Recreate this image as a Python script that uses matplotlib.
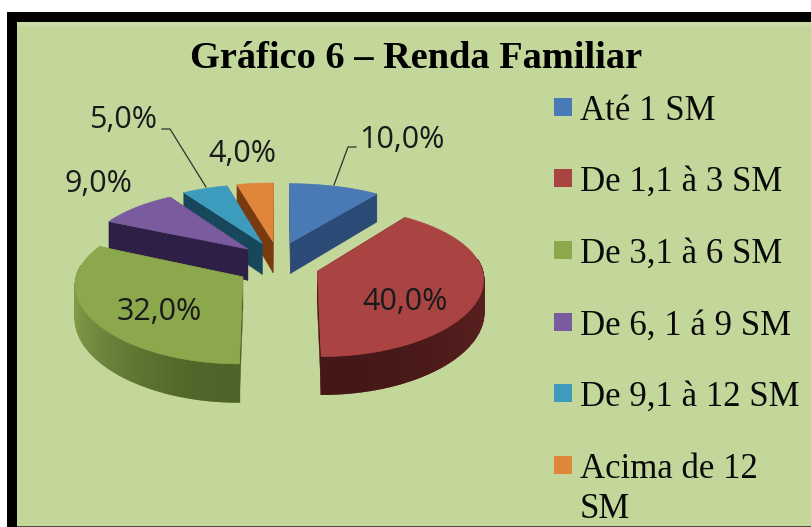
import numpy as np
import matplotlib
matplotlib.use('Agg')
import matplotlib.pyplot as plt
from matplotlib.patches import Polygon, Rectangle
from matplotlib.colors import to_rgb

title = 'Gráfico 6 – Renda Familiar'
categories = ['Até 1 SM', 'De 1,1 à 3 SM', 'De 3,1 à 6 SM', 'De 6, 1 á 9 SM', 'De 9,1 à 12 SM', 'Acima de 12\nSM']
values = [10.0, 40.0, 32.0, 9.0, 5.0, 4.0]
top_colors = ['#4a7ab5', '#a94443', '#8ca84c', '#7a5c9e', '#3d9cbd', '#e0863a']
wall_dark = ['#2b4a75', '#451717', '#4e6328', '#2e1f46', '#17475a', '#7a3a10']
wall_light = ['#2b4a75', '#5a2020', '#7f9a48', '#2e1f46', '#17475a', '#7a3a10']
value_labels = ['10,0%', '40,0%', '32,0%', '9,0%', '5,0%', '4,0%']

# projection of the tilted pie, in pixels
cx, cy = 278, 260.5
rx, ry = 163, 71
persp = 0.13
persp_x = 0.09
explode = 0.25
explode_y = 1.3
explode_drop = 0.05
depth = 32


def project(u, v):
    s = 1 / (1 + persp * v)
    return cx + rx * u / (1 + persp_x * v), cy - ry * v * s, s


def mix(c1, c2, t):
    a, b = np.array(to_rgb(c1)), np.array(to_rgb(c2))
    return tuple(a + (b - a) * t)


fig = plt.figure(figsize=(8.11, 5.27), dpi=100)
ax = fig.add_axes([0, 0, 1, 1])
ax.set_xlim(0, 811)
ax.set_ylim(527, 0)
ax.axis('off')

ax.add_patch(Rectangle((7, 12), 815, 530, fc='#c4d79b', ec='none', zorder=0))
ax.add_patch(Rectangle((7, 12), 10, 530, fc='black', ec='none', zorder=0.5))
ax.add_patch(Rectangle((7, 12), 815, 10, fc='black', ec='none', zorder=0.5))
ax.add_patch(Rectangle((17, 22), 800, 4, fc='#cbdca8', ec='none', zorder=0.4))
ax.add_patch(Rectangle((17, 525.5), 800, 3, fc='#4a5040', ec='none', zorder=0.5))
ax.text(416, 59, title, family='Liberation Serif', weight='bold', fontsize=27.6, ha='center', va='center')

edges = np.cumsum([0] + values) / sum(values) * 2 * np.pi
# far slices first, the big front ones last
order = [0, 5, 4, 3, 2, 1]
z = 2
for i in order:
    a0, a1 = edges[i], edges[i + 1]
    mid = (a0 + a1) / 2
    du = explode * np.sin(mid)
    dv = explode * np.cos(mid) * explode_y - explode_drop
    th = np.linspace(a0, a1, max(int((a1 - a0) * 60), 4))
    u = du + np.sin(th)
    v = dv + np.cos(th)
    x, y, s = project(np.r_[du, u], np.r_[dv, v])

    # flat side faces
    for k in (1, len(x) - 1):
        pts = [(x[0], y[0]), (x[k], y[k]),
               (x[k], y[k] + depth * s[k]), (x[0], y[0] + depth * s[0])]
        ax.add_patch(Polygon(pts, fc=wall_dark[i], ec=wall_dark[i], lw=0.3, zorder=z))
    z += 1

    # rim, only the part that faces us
    for k in range(1, len(x) - 1):
        if np.cos(th[k - 1]) > 0.15 and np.cos(th[k]) > 0.15:
            continue
        t = abs(np.sin(th[k])) ** 2
        col = mix(wall_dark[i], wall_light[i], t)
        pts = [(x[k], y[k]), (x[k + 1], y[k + 1]),
               (x[k + 1], y[k + 1] + depth * s[k + 1]), (x[k], y[k] + depth * s[k])]
        ax.add_patch(Polygon(pts, fc=col, ec=col, lw=1.2, zorder=z))
    z += 1

    ax.add_patch(Polygon(np.c_[x, y], fc=top_colors[i], ec=top_colors[i], lw=0.5, zorder=z))
    z += 1

# value labels
label_pos = [(402, 139.5), (405, 302.5), (159, 312.5), (98, 184.5), (123, 120.5), (242, 154.5)]
for lab, (lx, ly) in zip(value_labels, label_pos):
    ax.text(lx, ly, lab, family='Open Sans', fontsize=22, color='#1a1a1a', ha='center', va='center', zorder=50)

# leader lines
ax.plot([162, 170, 206], [129, 129, 187], color='#303030', lw=0.9, zorder=49)
ax.plot([356, 348, 334], [147, 147, 185], color='#303030', lw=0.9, zorder=49)

# legend
leg_y = [107, 178, 250, 322, 393, 465]
for lab, col, ly in zip(categories, top_colors, leg_y):
    ax.add_patch(Rectangle((554, ly - 9), 18, 18, fc=col, ec='none', zorder=10))
    for j, line in enumerate(lab.split('\n')):
        ax.text(580, ly + 13 + 40 * j, line, family='Liberation Serif', fontsize=25, color='#0a0a0a',
                ha='left', va='baseline', zorder=10)

fig.savefig('out.png', dpi=100)
